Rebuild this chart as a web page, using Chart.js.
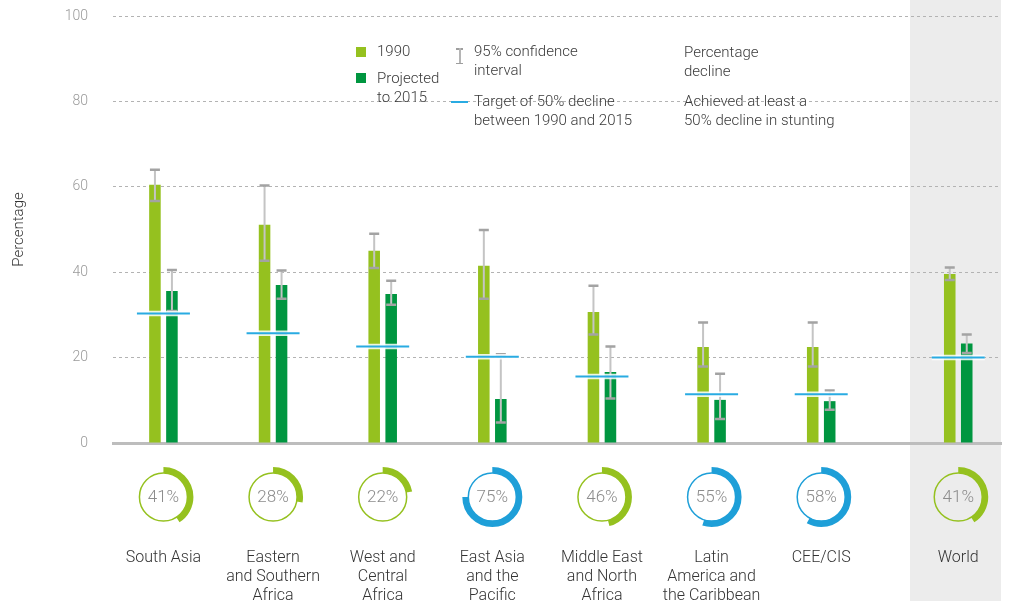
<!DOCTYPE html>
<html>
<head>
<meta charset="utf-8">
<script src="https://cdn.jsdelivr.net/npm/chart.js@4.4.1/dist/chart.umd.min.js"></script>
<style>
  html, body { margin: 0; padding: 0; background: #fff; }
  #wrap { position: relative; width: 1009px; height: 601px; overflow: hidden; font-family: Roboto, 'Open Sans', sans-serif; }
  #chart { position: absolute; left: 0; top: 0; }
  .lg { position: absolute; font-size: 15px; line-height: 19px; color: #3a3a3a; white-space: nowrap; font-weight: 300; }
  .sw { position: absolute; width: 10px; height: 10px; }
  .gr { position: absolute; background: #9e9e9e; }
</style>
</head>
<body>
<div id="wrap">
  <canvas id="chart" width="1009" height="601"></canvas>

  <div class="sw" style="left:356px; top:47px; background:#95c11f;"></div>
  <div class="lg" style="left:377px; top:42px;">1990</div>
  <div class="sw" style="left:356px; top:73px; background:#009640;"></div>
  <div class="lg" style="left:377px; top:69px;">Projected<br>to 2015</div>

  <div class="gr" style="left:456px; top:48px; width:7px; height:1.5px;"></div>
  <div class="gr" style="left:459px; top:48px; width:1.5px; height:16px; background:#b5b5b5;"></div>
  <div class="gr" style="left:456px; top:62.5px; width:7px; height:1.5px;"></div>
  <div class="lg" style="left:474px; top:42px;">95% confidence<br>interval</div>

  <div class="gr" style="left:451px; top:101px; width:17px; height:1.5px; background:#29abe2;"></div>
  <div class="lg" style="left:474px; top:92px;">Target of 50% decline<br>between 1990 and 2015</div>

  <div class="lg" style="left:684px; top:43px;">Percentage<br>decline</div>
  <div class="lg" style="left:684px; top:92px;">Achieved at least a<br>50% decline in stunting</div>
</div>

<script>
    'use strict';

    var regions = [
        ['South Asia'],
        ['Eastern', 'and Southern', 'Africa'],
        ['West and', 'Central', 'Africa'],
        ['East Asia', 'and the', 'Pacific'],
        ['Middle East', 'and North', 'Africa'],
        ['Latin', 'America and', 'the Caribbean'],
        ['CEE/CIS'],
        ['World']
    ];
    var values1990 = [60.5, 51.1, 45.0, 41.5, 30.7, 22.5, 22.5, 39.6];
    var values2015 = [35.6, 37.0, 34.9, 10.3, 16.6, 10.1, 9.8, 23.3];
    var ci1990Low  = [56.7, 42.7, 41.0, 33.8, 25.4, 17.9, 17.9, 38.2];
    var ci1990High = [64.0, 60.3, 49.0, 49.9, 36.8, 28.2, 28.2, 41.1];
    var ci2015Low  = [30.9, 33.8, 32.4, 4.8, 10.4, 5.6, 7.8, 21.1];
    var ci2015High = [40.5, 40.4, 38.0, 20.8, 22.6, 16.2, 12.3, 25.4];
    var targets    = [30.3, 25.7, 22.6, 20.2, 15.6, 11.4, 11.4, 20.0];
    var declines   = [41, 28, 22, 75, 46, 55, 58, 41];
    var yTicks     = [0, 20, 40, 60, 80, 100];

    var GREEN_LIGHT = '#95c11f',
        GREEN_DARK  = '#009640',
        BLUE        = '#1e9fd8',
        TARGET_BLUE = '#29abe2';

    var X_MIN = -0.46, X_MAX = 7.64;

    // world sits a bit apart from the regions
    var xPos = regions.map(function(r, i) {
        return i < regions.length - 1 ? i : i + 0.25;
    });

    function points(vals) {
        return vals.map(function(v, i) { return { x: xPos[i], y: v }; });
    }

    var worldBand = {
        id: 'worldBand',
        beforeDraw: function(chart) {
            var ctx = chart.ctx, xs = chart.scales.x;
            var x0 = xs.getPixelForValue(xPos[xPos.length - 1] - 0.44);
            ctx.save();
            ctx.fillStyle = '#ececec';
            ctx.fillRect(x0, 0, chart.chartArea.right - x0, chart.height);
            ctx.restore();
        }
    };

    var marks = {
        id: 'marks',
        afterDatasetsDraw: function(chart) {
            var ctx = chart.ctx, xs = chart.scales.x, ys = chart.scales.y;
            var ci = [[ci1990Low, ci1990High], [ci2015Low, ci2015High]];

            ctx.save();
            ci.forEach(function(pair, d) {
                chart.getDatasetMeta(d).data.forEach(function(bar, i) {
                    var hi = ys.getPixelForValue(pair[1][i]);
                    var lo = ys.getPixelForValue(pair[0][i]);
                    ctx.strokeStyle = '#c4c4c4';
                    ctx.lineWidth = 2;
                    ctx.beginPath();
                    ctx.moveTo(bar.x, hi);
                    ctx.lineTo(bar.x, lo);
                    ctx.stroke();
                    ctx.strokeStyle = '#a3a3a3';
                    ctx.lineWidth = 2.5;
                    ctx.beginPath();
                    ctx.moveTo(bar.x - 5, hi); ctx.lineTo(bar.x + 5, hi);
                    ctx.moveTo(bar.x - 5, lo); ctx.lineTo(bar.x + 5, lo);
                    ctx.stroke();
                });
            });

            targets.forEach(function(t, i) {
                var cx = xs.getPixelForValue(xPos[i]);
                var y = ys.getPixelForValue(t);
                ctx.lineCap = 'butt';
                ctx.strokeStyle = 'rgba(255,255,255,0.85)';
                ctx.lineWidth = 5.5;
                ctx.beginPath();
                ctx.moveTo(cx - 26.5, y); ctx.lineTo(cx + 26.5, y);
                ctx.stroke();
                ctx.strokeStyle = TARGET_BLUE;
                ctx.lineWidth = 2;
                ctx.beginPath();
                ctx.moveTo(cx - 26.5, y); ctx.lineTo(cx + 26.5, y);
                ctx.stroke();
            });
            ctx.restore();
        },
        afterDraw: function(chart) {
            var ctx = chart.ctx, xs = chart.scales.x;
            var cy = chart.chartArea.bottom + 54;

            ctx.save();
            declines.forEach(function(p, i) {
                var cx = xs.getPixelForValue(xPos[i]);
                var col = p >= 50 ? BLUE : GREEN_LIGHT;
                ctx.strokeStyle = col;
                ctx.lineWidth = 1.5;
                ctx.beginPath();
                ctx.arc(cx, cy, 24, 0, Math.PI * 2);
                ctx.stroke();

                ctx.lineWidth = 6;
                ctx.lineCap = 'butt';
                ctx.beginPath();
                ctx.arc(cx, cy, 27, -Math.PI / 2, -Math.PI / 2 + Math.PI * 2 * p / 100);
                ctx.stroke();

                ctx.fillStyle = '#8c8c8c';
                ctx.font = '300 17px Roboto, sans-serif';
                ctx.textAlign = 'center';
                ctx.textBaseline = 'middle';
                ctx.fillText(p + '%', cx, cy + 1);
            });
            ctx.restore();
        }
    };

    var chart = new Chart(document.getElementById('chart').getContext('2d'), {
        type: 'bar',
        data: {
            datasets: [{
                label: '1990',
                data: points(values1990),
                backgroundColor: GREEN_LIGHT
            }, {
                label: 'Projected to 2015',
                data: points(values2015),
                backgroundColor: GREEN_DARK
            }]
        },
        options: {
            responsive: false,
            animation: false,
            categoryPercentage: 0.31,
            barPercentage: 0.68,
            layout: { padding: { top: 16, right: 8, bottom: 0, left: 0 } },
            plugins: {
                legend: { display: false },
                tooltip: { enabled: false }
            },
            scales: {
                x: {
                    type: 'linear',
                    offset: false,
                    min: X_MIN,
                    max: X_MAX,
                    afterBuildTicks: function(scale) {
                        scale.ticks = xPos.map(function(v) { return { value: v }; });
                        scale.min = X_MIN;
                        scale.max = X_MAX;
                    },
                    afterFit: function(scale) {
                        scale.height = 158;
                        scale.paddingLeft = 0;
                        scale.paddingRight = 0;
                    },
                    grid: { display: false, offset: false },
                    border: { display: true, color: '#bdbdbd', width: 3 },
                    ticks: {
                        autoSkip: false,
                        maxRotation: 0,
                        padding: 97,
                        color: '#333',
                        font: { family: 'Roboto, sans-serif', size: 16, weight: 300, lineHeight: 1.19 },
                        callback: function(value, index) { return regions[index]; }
                    }
                },
                y: {
                    min: 0,
                    max: 100,
                    afterBuildTicks: function(scale) {
                        scale.ticks = yTicks.map(function(v) { return { value: v }; });
                    },
                    afterFit: function(scale) {
                        scale.width = 113;
                        scale.paddingTop = 0;
                        scale.paddingBottom = 0;
                    },
                    grid: { color: '#b3b3b3', lineWidth: 1, drawTicks: false },
                    border: { display: false, dash: [3, 3] },
                    ticks: {
                        padding: 25,
                        color: '#9a9a9a',
                        font: { family: 'Roboto, sans-serif', size: 14, weight: 300 }
                    },
                    title: {
                        display: true,
                        text: 'Percentage',
                        color: '#333',
                        padding: { top: 10, bottom: 0 },
                        font: { family: 'Roboto, sans-serif', size: 15, weight: 300 }
                    }
                }
            }
        },
        plugins: [worldBand, marks]
    });
</script>
</body>
</html>
